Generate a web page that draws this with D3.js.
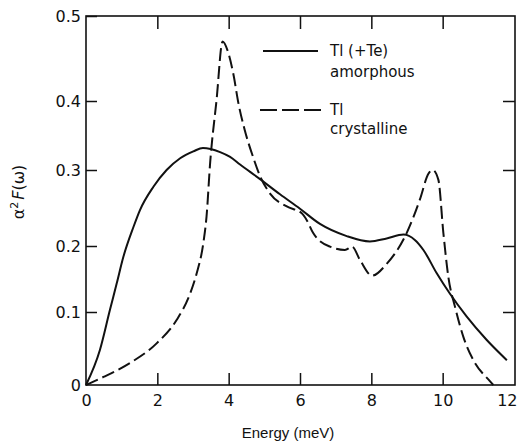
<!DOCTYPE html>
<html>
<head>
<meta charset="utf-8">
<script src="https://cdn.jsdelivr.net/npm/d3@7"></script>
<style>
  body { margin: 0; background: #fff; }
  text { fill: #111; }
</style>
</head>
<body>
<div id="canvas"></div>
<script>
// energy (meV) / alpha^2 F values
const amorphousE = [0, 0.39, 0.67, 0.86, 1.05, 1.33, 1.51, 1.89, 2.26, 2.64, 3.01, 3.28, 3.76, 4.04, 4.32, 4.88, 5.44, 6.0, 6.56, 7.31, 7.96, 8.43, 8.9, 9.22, 9.46, 9.83, 10.2, 10.67, 11.23, 11.8];
const amorphousV = [0, 0.048, 0.103, 0.143, 0.184, 0.225, 0.247, 0.278, 0.300, 0.317, 0.327, 0.332, 0.326, 0.319, 0.308, 0.288, 0.268, 0.249, 0.229, 0.213, 0.206, 0.210, 0.215, 0.208, 0.194, 0.159, 0.128, 0.094, 0.062, 0.034];

const crystalE = [0, 0.49, 1.23, 1.98, 2.54, 2.92, 3.10, 3.29, 3.38, 3.48, 3.66, 3.83, 3.98, 4.13, 4.28, 4.45, 4.69, 4.88, 5.16, 5.63, 6.05, 6.19, 6.37, 6.84, 7.26, 7.46, 7.68, 8.02, 8.43, 8.99, 9.36, 9.60, 9.72, 9.88, 10.02, 10.16, 10.35, 10.58, 10.86, 11.33, 11.42];
const crystalV = [0, 0.011, 0.030, 0.057, 0.089, 0.128, 0.158, 0.204, 0.239, 0.310, 0.401, 0.470, 0.458, 0.432, 0.395, 0.358, 0.318, 0.292, 0.269, 0.252, 0.243, 0.234, 0.217, 0.199, 0.194, 0.199, 0.179, 0.155, 0.173, 0.217, 0.261, 0.295, 0.300, 0.287, 0.217, 0.153, 0.107, 0.066, 0.034, 0.005, 0];

const xTicks = [0, 2, 4, 6, 8, 10, 12];
const yTicks = [0, 0.1, 0.2, 0.3, 0.4, 0.5];
const yTickLabels = ["0", "0.1", "0.2", "0.3", "0.4", "0.5"];

const width = 517, height = 446;
const margin = { left: 86, right: 515, top: 16, bottom: 385 };

const svg = d3.select("#canvas").append("svg")
    .attr("width", width)
    .attr("height", height);

const x = d3.scaleLinear().domain([0, 12]).range([margin.left, margin.right - 1]);
// hand drawn figure: tick spacing is not quite even
const y = d3.scaleLinear().domain(yTicks).range([385, 312, 246, 170, 101, 16]);

// frame
svg.append("rect")
    .attr("x", margin.left).attr("y", margin.top)
    .attr("width", margin.right - margin.left).attr("height", margin.bottom - margin.top)
    .attr("fill", "none").attr("stroke", "#111").attr("stroke-width", 1.6);

const tickFont = "DejaVu Sans, sans-serif";

let gb = svg.append("g")
    .attr("transform", `translate(0,${margin.bottom})`)
    .call(d3.axisBottom(x).tickValues(xTicks).tickSize(-12).tickPadding(10).tickFormat(d3.format("d")));
let gt = svg.append("g")
    .attr("transform", `translate(0,${margin.top})`)
    .call(d3.axisTop(x).tickValues(xTicks.slice(1, -1)).tickSize(-13).tickFormat(""));
let gl = svg.append("g")
    .attr("transform", `translate(${margin.left},0)`)
    .call(d3.axisLeft(y).tickValues(yTicks).tickSize(-11).tickPadding(5).tickFormat((d, i) => yTickLabels[i]));
let gr = svg.append("g")
    .attr("transform", `translate(${margin.right},0)`)
    .call(d3.axisRight(y).tickValues(yTicks.slice(1, -1)).tickSize(-12).tickFormat(""));

[gb, gt, gl, gr].forEach(g => {
    g.select(".domain").remove();
    g.selectAll("line").attr("stroke", "#111").attr("stroke-width", 1.5);
    g.selectAll("text").style("font-family", tickFont).style("font-size", "16px").attr("fill", "#111");
});
gl.selectAll(".tick").filter(d => d === 0).select("line").remove();
gb.selectAll(".tick").filter(d => d === 0 || d === 12).select("line").remove();
// last label sits against the page edge
gb.selectAll(".tick").filter(d => d === 12).select("text")
    .attr("text-anchor", "end").attr("x", 3);

// curves
const line = d3.line()
    .x(d => x(d[0]))
    .y(d => y(d[1]))
    .curve(d3.curveMonotoneX);

svg.append("path")
    .datum(d3.zip(amorphousE, amorphousV))
    .attr("d", line)
    .attr("fill", "none").attr("stroke", "#111").attr("stroke-width", 2);

svg.append("path")
    .datum(d3.zip(crystalE, crystalV))
    .attr("d", line)
    .attr("fill", "none").attr("stroke", "#111").attr("stroke-width", 2)
    .attr("stroke-dasharray", "13,5");

// legend
const legend = svg.append("g").style("font-family", tickFont).style("font-size", "15px");
legend.append("line")
    .attr("x1", 263).attr("x2", 318).attr("y1", 51).attr("y2", 51)
    .attr("stroke", "#111").attr("stroke-width", 2);
legend.append("text").attr("x", 330).attr("y", 56).text("Tl (+Te)");
legend.append("text").attr("x", 330).attr("y", 77).text("amorphous");
legend.append("line")
    .attr("x1", 260).attr("x2", 322).attr("y1", 110).attr("y2", 110)
    .attr("stroke", "#111").attr("stroke-width", 2)
    .attr("stroke-dasharray", "17,5");
legend.append("text").attr("x", 330).attr("y", 115).text("Tl");
legend.append("text").attr("x", 330).attr("y", 134).text("crystalline");

// axis titles
svg.append("text")
    .attr("x", 288).attr("y", 438)
    .attr("text-anchor", "middle")
    .style("font-family", "Liberation Sans, Arial, sans-serif")
    .style("font-size", "15px")
    .text("Energy (meV)");

const yt = svg.append("text")
    .attr("transform", "translate(24,192) rotate(-90)")
    .attr("text-anchor", "middle")
    .style("font-family", tickFont)
    .style("font-size", "16px");
yt.append("tspan").text("α");
yt.append("tspan").attr("dy", -6).style("font-size", "11px").text("2");
yt.append("tspan").attr("dy", 6).attr("dx", 2).style("font-style", "italic").text("F");
yt.append("tspan").text("(ω)");
</script>
</body>
</html>
